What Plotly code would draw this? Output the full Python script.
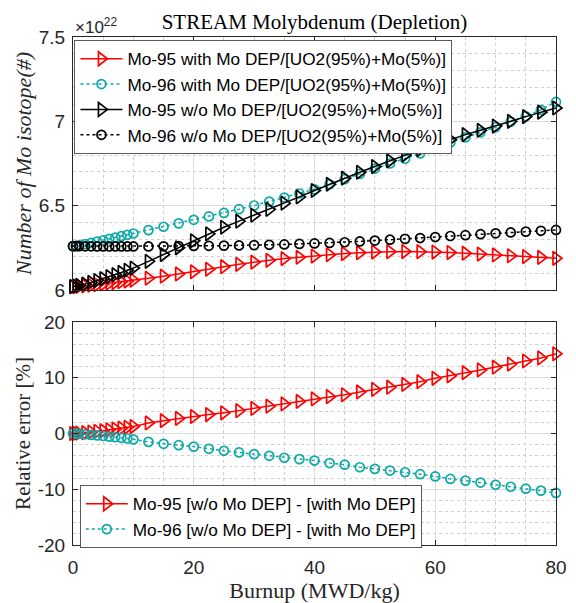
import plotly.graph_objects as go

burnup = [0, 0.5, 1, 2, 3, 4, 5, 6, 7, 8, 9, 10,
          12.5, 15, 17.5, 20, 22.5, 25, 27.5, 30, 32.5, 35, 37.5, 40,
          42.5, 45, 47.5, 50, 52.5, 55, 57.5, 60, 62.5, 65, 67.5, 70,
          72.5, 75, 77.5, 80]

# number densities in units of 1e22
mo95_with = [6.020, 6.020, 6.021, 6.024, 6.028, 6.032, 6.036, 6.040, 6.044, 6.049, 6.053, 6.058,
             6.070, 6.082, 6.095, 6.108, 6.123, 6.138, 6.152, 6.165, 6.176, 6.186, 6.194, 6.201,
             6.209, 6.216, 6.221, 6.225, 6.227, 6.228, 6.227, 6.225, 6.222, 6.218, 6.213, 6.208,
             6.203, 6.198, 6.193, 6.188]
mo96_with = [6.260, 6.262, 6.265, 6.272, 6.279, 6.287, 6.295, 6.303, 6.311, 6.319, 6.327, 6.335,
             6.355, 6.375, 6.395, 6.416, 6.436, 6.457, 6.479, 6.501, 6.524, 6.548, 6.572, 6.597,
             6.627, 6.657, 6.688, 6.720, 6.750, 6.778, 6.810, 6.843, 6.875, 6.905, 6.935, 6.965,
             6.997, 7.030, 7.068, 7.115]
mo95_wo = [6.020, 6.023, 6.027, 6.035, 6.045, 6.056, 6.067, 6.079, 6.091, 6.104, 6.117, 6.130,
           6.170, 6.210, 6.250, 6.292, 6.333, 6.372, 6.408, 6.443, 6.478, 6.515, 6.552, 6.590,
           6.627, 6.663, 6.698, 6.732, 6.766, 6.800, 6.832, 6.862, 6.892, 6.921, 6.947, 6.972,
           7.000, 7.028, 7.054, 7.079]
mo96_wo = [6.260, 6.260, 6.260, 6.259, 6.259, 6.258, 6.258, 6.258, 6.258, 6.258, 6.258, 6.258,
           6.258, 6.259, 6.260, 6.261, 6.262, 6.263, 6.264, 6.266, 6.268, 6.270, 6.273, 6.276,
           6.279, 6.283, 6.288, 6.293, 6.298, 6.303, 6.308, 6.314, 6.320, 6.325, 6.331, 6.336,
           6.341, 6.346, 6.351, 6.356]

# relative error [%]
err95 = [0, 0.03, 0.06, 0.15, 0.25, 0.38, 0.5, 0.65, 0.8, 0.95, 1.1, 1.25,
         1.9, 2.3, 2.7, 3.05, 3.4, 3.7, 4.1, 4.5, 4.9, 5.3, 5.75, 6.2,
         6.6, 6.95, 7.45, 7.9, 8.3, 8.8, 9.3, 9.9, 10.35, 10.9, 11.4, 11.9,
         12.45, 13.0, 13.55, 14.3]
err96 = [0, -0.03, -0.06, -0.15, -0.25, -0.35, -0.45, -0.56, -0.67, -0.78, -0.9, -1.05,
         -1.5, -1.85, -2.1, -2.35, -2.75, -3.1, -3.4, -3.7, -4.0, -4.35, -4.6, -4.85,
         -5.3, -5.6, -6.05, -6.35, -6.65, -6.95, -7.3, -7.7, -8.15, -8.45, -8.8, -9.2,
         -9.55, -9.9, -10.25, -10.65]

err_ticks = [-20, -10, 0, 10, 20]
err_ticklabels = ["-20", "-10", "0", "10", "20"]

names_top = ["Mo-95 with Mo DEP/[UO2(95%)+Mo(5%)]",
             "Mo-96 with Mo DEP/[UO2(95%)+Mo(5%)]",
             "Mo-95 w/o Mo DEP/[UO2(95%)+Mo(5%)]",
             "Mo-96 w/o Mo DEP/[UO2(95%)+Mo(5%)]"]
names_bot = ["Mo-95 [w/o Mo DEP] - [with Mo DEP]",
             "Mo-96 [w/o Mo DEP] - [with Mo DEP]"]

RED = "#FF0000"
TEAL = "#0DA8A8"
BLACK = "#000000"
SANS = "Arial, Liberation Sans, sans-serif"
SERIF = "Times New Roman, Liberation Serif, serif"
AX = "#262626"

fig = go.Figure()

def add(x, y, name, color, symbol, dash, size, xa, ya, legend):
    fig.add_trace(go.Scatter(
        x=x, y=y, name=name, mode="lines+markers", cliponaxis=False,
        line=dict(color=color, width=1.5, dash=dash),
        marker=dict(symbol=symbol, size=size, color=color,
                    line=dict(color=color, width=1.7)),
        xaxis=xa, yaxis=ya, legend=legend))

add(burnup, mo95_with, names_top[0], RED, "triangle-right-open", "solid", 12, "x", "y", "legend")
add(burnup, mo96_with, names_top[1], TEAL, "circle-open", "dot", 9, "x", "y", "legend")
add(burnup, mo95_wo, names_top[2], BLACK, "triangle-right-open", "solid", 12, "x", "y", "legend")
add(burnup, mo96_wo, names_top[3], BLACK, "circle-open", "dot", 9, "x", "y", "legend")
add(burnup, err95, names_bot[0], RED, "triangle-right-open", "solid", 12, "x2", "y2", "legend2")
add(burnup, err96, names_bot[1], TEAL, "circle-open", "dot", 9, "x2", "y2", "legend2")

axis_common = dict(
    showline=True, linecolor=AX, linewidth=1, mirror="ticks",
    ticks="inside", ticklen=5, tickcolor=AX,
    showgrid=True, gridcolor="#DCDCDC", gridwidth=1,
    zeroline=False, automargin=False,
    tickfont=dict(family=SANS, size=19, color=AX),
)
minor_style = dict(showgrid=True, griddash="dot", gridcolor="#CFCFCF", ticklen=0)

legend_style = dict(xanchor="left", yanchor="top", xref="paper", yref="paper",
                    bgcolor="white", bordercolor="#5A5A5A", borderwidth=1,
                    font=dict(family=SANS, size=17.2, color="#000000"),
                    tracegroupgap=0, itemsizing="trace", itemwidth=42)

W, H = 568, 595
fig.update_layout(
    width=W, height=H,
    margin=dict(l=65, r=20, t=29, b=58, autoexpand=False),
    paper_bgcolor="white", plot_bgcolor="white",
    showlegend=True,
    title=dict(text="STREAM Molybdenum (Depletion)", x=306.5 / W, xanchor="center",
               y=1 - 14 / H, yanchor="middle", yref="container", xref="container",
               font=dict(family=SERIF, size=21, color="#000000")),
    xaxis=dict(domain=[0, 1], anchor="y", range=[0, 80], dtick=20, showticklabels=False,
               minor=dict(dtick=5, **minor_style), **axis_common),
    yaxis=dict(domain=[0.502, 1], anchor="x", range=[6, 7.5], dtick=0.5,
               ticklabelstandoff=3,
               minor=dict(dtick=0.1, **minor_style),
               title=dict(text="<i>Number of Mo isotope(#)</i>", standoff=1,
                          font=dict(family=SERIF, size=22, color=AX)),
               **axis_common),
    xaxis2=dict(domain=[0, 1], anchor="y2", range=[0, 80], dtick=20,
                ticklabelstandoff=5,
                minor=dict(dtick=5, **minor_style),
                title=dict(text="Burnup (MWD/kg)", standoff=5,
                           font=dict(family=SERIF, size=22, color=AX)),
                **axis_common),
    yaxis2=dict(domain=[0, 0.439], anchor="x2", range=[-20, 20],
                tickmode="array", tickvals=err_ticks, ticktext=err_ticklabels,
                ticklabelstandoff=3,
                minor=dict(tickmode="linear", tick0=0, dtick=2, **minor_style),
                title=dict(text="Relative error [%]", standoff=1,
                           font=dict(family=SERIF, size=21, color=AX)),
                **axis_common),
    legend=dict(x=0.003, y=0.994, **legend_style),
    legend2=dict(x=0.014, y=0.118, **legend_style),
    annotations=[dict(text="\u00d710<sup>22</sup>", x=0, y=1, xref="paper", yref="paper",
                      xanchor="left", yanchor="bottom", yshift=-2, showarrow=False,
                      font=dict(family=SANS, size=17, color=AX))],
)

fig.write_html("out.html")
